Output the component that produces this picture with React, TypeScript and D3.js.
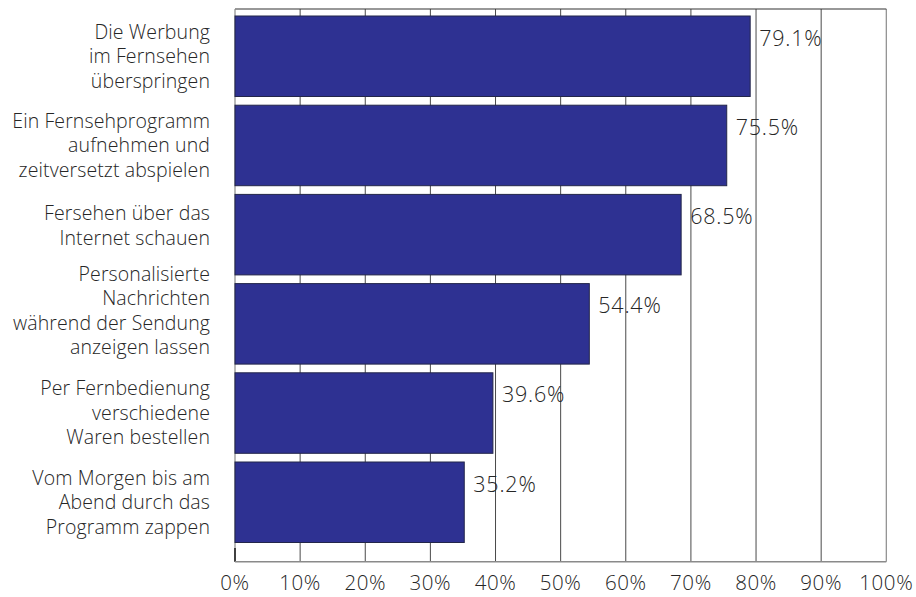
import React from "react";
import * as d3 from "d3";

const categories: string[][] = [
  ["Die Werbung", "im Fernsehen", "überspringen"],
  ["Ein Fernsehprogramm", "aufnehmen und", "zeitversetzt abspielen"],
  ["Fersehen über das", "Internet schauen"],
  ["Personalisierte", "Nachrichten", "während der Sendung", "anzeigen lassen"],
  ["Per Fernbedienung", "verschiedene", "Waren bestellen"],
  ["Vom Morgen bis am", "Abend durch das", "Programm zappen"],
];
const values: number[] = [79.1, 75.5, 68.5, 54.4, 39.6, 35.2];
const ticks: number[] = [0, 10, 20, 30, 40, 50, 60, 70, 80, 90, 100];

const W = 916;
const H = 597;
const FONT = "'Open Sans', 'Noto Sans', sans-serif";
const TEXT = "#262626";

export default function App() {
  const left = 235;
  const right = 886.3;
  const top = 9;
  const bottom = 561.7;
  const x = d3.scaleLinear().domain([0, 100]).range([left, right]);
  const ids = categories.map((_, i) => String(i));
  const p = 8.7 / 89.2;
  const y = d3
    .scaleBand<string>()
    .domain(ids)
    .range([11.65, 546.85])
    .paddingInner(p)
    .paddingOuter(p / 2);
  const lineH = 24.5;
  const shiftFor: Record<number, number> = { 2: -9, 3: 0, 4: -13 };

  return (
    <svg
      width={W}
      height={H}
      style={{ position: "absolute", left: 0, top: 0, display: "block", background: "#fff" }}
      fontFamily={FONT}
      fontWeight={300}
    >
      {/* gridlines */}
      {ticks.slice(1, -1).map((t) => (
        <line key={"g" + t} x1={x(t)} x2={x(t)} y1={top} y2={bottom} stroke="#4a4a4a" strokeWidth={1} />
      ))}
      <line x1={x(100)} x2={x(100)} y1={top} y2={bottom} stroke="#8a8a8a" strokeWidth={1.2} />
      <line x1={left} x2={right} y1={top} y2={top} stroke="#333" strokeWidth={1.2} />
      <line x1={left} x2={left} y1={top} y2={bottom} stroke="#8a8a8a" strokeWidth={1.2} />
      <line x1={left} x2={left} y1={548} y2={bottom} stroke="#222" strokeWidth={1.6} />
      <line x1={left} x2={right} y1={bottom} y2={bottom} stroke="#8a8a8a" strokeWidth={1.6} />

      {/* bars */}
      {values.map((v, i) => (
        <rect
          key={"b" + i}
          x={x(0)}
          y={y(ids[i])!}
          width={x(v) - x(0)}
          height={y.bandwidth()}
          fill="#2E3192"
          stroke="#23264a"
          strokeWidth={1}
        />
      ))}

      {/* value labels */}
      {values.map((v, i) => (
        <text
          key={"v" + i}
          x={x(v) + 9}
          y={y(ids[i])! + 22}
          dy="0.35em"
          fontSize={21.5}
          letterSpacing={0.8}
          fill={TEXT}
        >
          {v.toFixed(1) + "%"}
        </text>
      ))}

      {/* category labels */}
      {categories.map((lines, i) => {
        const c = y(ids[i])! + y.bandwidth() / 2 + (shiftFor[lines.length] ?? 0);
        const start = c - ((lines.length - 1) * lineH) / 2;
        return (
          <text key={"c" + i} x={210} textAnchor="end" fontSize={19.5} letterSpacing={0.1} fill={TEXT}>
            {lines.map((l, j) => (
              <tspan key={j} x={210} y={start + j * lineH} dy="0.35em">
                {l}
              </tspan>
            ))}
          </text>
        );
      })}

      {/* x tick labels */}
      {ticks.map((t) => (
        <text key={"t" + t} x={x(t)} y={583} dy="0.35em" textAnchor="middle" fontSize={20.5} fill={TEXT} letterSpacing={0.6}>
          {t + "%"}
        </text>
      ))}
    </svg>
  );
}
